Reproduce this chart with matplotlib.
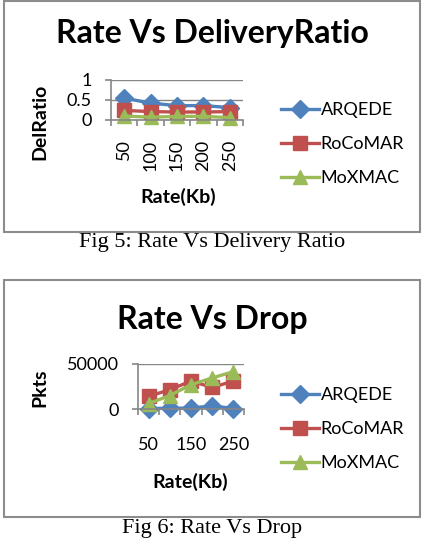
import numpy as np
import matplotlib
matplotlib.use('Agg')
import matplotlib.pyplot as plt
from matplotlib.patches import Rectangle

rates = ['50', '100', '150', '200', '250']
series = ['ARQEDE', 'RoCoMAR', 'MoXMAC']

# Fig 5: delivery ratio
del_arqede = [0.55, 0.42, 0.36, 0.36, 0.31]
del_rocomar = [0.24, 0.21, 0.2, 0.2, 0.21]
del_moxmac = [0.1, 0.07, 0.09, 0.09, 0.06]

# Fig 6: dropped packets
drop_arqede = [500, 800, 1000, 3500, 500]
drop_rocomar = [14000, 21500, 31000, 24000, 31000]
drop_moxmac = [6000, 15000, 27000, 34500, 41500]

colors = ['#4F81BD', '#C0504D', '#9BBB59']
markers = ['D', 's', '^']
msizes = [9, 9.5, 10.5]

plt.rcParams['font.family'] = ['Lato', 'DejaVu Sans']

W, H = 428, 538
fig = plt.figure(figsize=(W / 100, H / 100), dpi=100)


def px_axes(x0, x1, ytop, ybot):
    return fig.add_axes([x0 / W, (H - ybot) / H, (x1 - x0) / W, (ybot - ytop) / H])


def style_axes(ax):
    for s in ['top', 'right']:
        ax.spines[s].set_visible(False)
    for s in ['left', 'bottom']:
        ax.spines[s].set_color('#868686')
        ax.spines[s].set_linewidth(1.2)
    ax.yaxis.grid(True, color='#868686', linewidth=1.0)
    ax.set_axisbelow(True)
    ax.set_xlim(-0.5, 4.5)
    ax.set_xticks(np.arange(-0.5, 5, 1), minor=True)
    ax.tick_params(axis='x', which='minor', length=4, color='#868686', direction='out', width=1.2)
    ax.tick_params(axis='x', which='major', length=0)
    ax.tick_params(axis='y', length=4, color='#868686', width=1.2, labelsize=13, pad=10)


def draw_series(ax, data):
    x = np.arange(len(rates))
    handles = []
    for vals, name, c, m, ms in zip(data, series, colors, markers, msizes):
        h, = ax.plot(x, vals, color=c, marker=m, markersize=ms, linewidth=2.4,
                     label=name, clip_on=False)
        handles.append(h)
    return handles


# frames around the two charts
fig.patches.append(Rectangle((4 / W, (H - 232) / H), 416 / W, 231 / H, transform=fig.transFigure,
                             fill=False, edgecolor='#8c8c8c', linewidth=1.5))
fig.patches.append(Rectangle((4 / W, (H - 517) / H), 416 / W, 237 / H, transform=fig.transFigure,
                             fill=False, edgecolor='#8c8c8c', linewidth=1.5))

# ---- top chart ----
ax1 = px_axes(111, 243, 80, 120)
style_axes(ax1)
hs = draw_series(ax1, [del_arqede, del_rocomar, del_moxmac])
ax1.set_ylim(0, 1)
ax1.set_yticks([0, 0.5, 1])
ax1.set_yticklabels(['0', '0.5', '1'])
ax1.set_xticks(np.arange(5))
ax1.set_xticklabels(rates, rotation=90, fontsize=13, va='top')
ax1.tick_params(axis='x', which='major', pad=14)
fig.text(212 / W, 1 - 33 / H, 'Rate Vs DeliveryRatio', ha='center', va='center',
         fontsize=23, fontweight='bold')
fig.text(40 / W, 1 - 122 / H, 'DelRatio', ha='center', va='center', rotation=90,
         fontsize=14, fontweight='bold')
fig.text(178 / W, 1 - 197 / H, 'Rate(Kb)', ha='center', va='center',
         fontsize=14, fontweight='bold')
ax1.legend(handles=hs, loc='center left', bbox_to_anchor=(272 / W, 1 - 144 / H),
           bbox_transform=fig.transFigure, frameon=False, fontsize=13,
           handlelength=2.1, handletextpad=0.1, labelspacing=1.0, borderpad=0)
fig.text(212 / W, 1 - 243 / H, 'Fig 5: Rate Vs Delivery Ratio', ha='center', va='center',
         fontsize=16, family='Liberation Serif')

# ---- bottom chart ----
ax2 = px_axes(138, 244, 364, 409)
style_axes(ax2)
hs = draw_series(ax2, [drop_arqede, drop_rocomar, drop_moxmac])
ax2.set_ylim(0, 50000)
ax2.set_yticks([0, 50000])
ax2.set_yticklabels(['0', '50000'])
ax2.set_xticks([0, 2, 4])
ax2.set_xticklabels([rates[0], rates[2], rates[4]], fontsize=13)
ax2.tick_params(axis='x', which='major', pad=20)
fig.text(212 / W, 1 - 320 / H, 'Rate Vs Drop', ha='center', va='center',
         fontsize=23, fontweight='bold')
fig.text(40 / W, 1 - 388 / H, 'Pkts', ha='center', va='center', rotation=90,
         fontsize=14, fontweight='bold')
fig.text(190 / W, 1 - 482 / H, 'Rate(Kb)', ha='center', va='center',
         fontsize=14, fontweight='bold')
ax2.legend(handles=hs, loc='center left', bbox_to_anchor=(272 / W, 1 - 429 / H),
           bbox_transform=fig.transFigure, frameon=False, fontsize=13,
           handlelength=2.1, handletextpad=0.1, labelspacing=1.0, borderpad=0)
fig.text(212 / W, 1 - 528 / H, 'Fig 6: Rate Vs Drop', ha='center', va='center',
         fontsize=16, family='Liberation Serif')

fig.savefig('out.png', dpi=100)
